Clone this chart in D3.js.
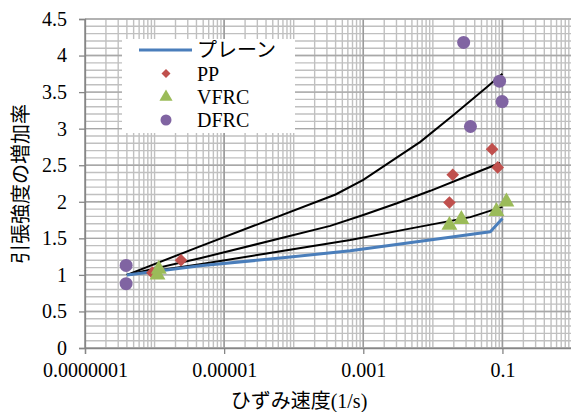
<!DOCTYPE html>
<html>
<head>
<meta charset="utf-8">
<script src="https://cdn.jsdelivr.net/npm/d3@7"></script>
<style>
body{margin:0;background:#fff;}
text{font-family:"Liberation Serif","Noto Sans CJK JP",serif;fill:#000;}
</style>
</head>
<body>
<div id="chart"></div>
<script>
// strain rate (1/s) vs increase ratio of tensile strength
var plain   = [[4e-7,1.0],[4.5e-6,1.126],[6.4e-5,1.23],[6.5e-4,1.33],[1.15e-2,1.49],[0.067,1.59],[0.1,1.77]];
var fitHigh = [[4e-7,1.0],[4.5e-6,1.39],[4e-4,2.1],[1e-3,2.30],[6.6e-3,2.82],[0.02,3.19],[0.06,3.57],[0.1,3.75]];
var fitMid  = [[4e-7,1.0],[4.5e-6,1.227],[3.35e-4,1.67],[1e-3,1.82],[3.05e-3,1.98],[9.2e-3,2.15],[0.0347,2.37],[0.093,2.53]];
var fitLow  = [[4e-7,1.0],[4.5e-6,1.145],[6.5e-4,1.477],[6.6e-3,1.66],[0.0347,1.79],[0.1,1.93]];
var pp   = [[9.3e-7,1.03],[2.4e-6,1.2],[0.0173,1.99],[0.0193,2.37],[0.071,2.72],[0.0855,2.47]];
var vfrc = [[1.1e-6,1.0],[1.15e-6,1.08],[0.0173,1.68],[0.0257,1.76],[0.082,1.87],[0.114,2.0]];
var dfrc = [[3.9e-7,1.13],[3.9e-7,0.88],[0.0277,4.18],[0.091,3.65],[0.099,3.37],[0.0347,3.03]];

var xTicks = [1e-7,1e-5,1e-3,1e-1];
var xTickLabels = ["0.0000001","0.00001","0.001","0.1"];
var yTicks = [0,0.5,1,1.5,2,2.5,3,3.5,4,4.5];
var legendNames = ["プレーン","PP","VFRC","DFRC"];

(function(){
var width = 571, height = 412;
var pLeft = 85, pRight = 572, pTop = 19, pBottom = 348;

var svg = d3.select("#chart").append("svg")
	.attr("width", width).attr("height", height);

var x = d3.scaleLog().domain([1e-7, 1]).range([pLeft, pRight]);
var y = d3.scaleLinear().domain([0, 4.5]).range([pBottom, pTop]);

//minor grid
var minorX = [];
for (var d = -7; d < 0; d++) {
	for (var k = 1; k <= 9; k++) minorX.push(k * Math.pow(10, d));
}
var minorY = d3.range(0, 46).map(function(i){ return i / 10; });

var grid = svg.append("g");
grid.selectAll("line.mx").data(minorX).enter().append("line")
	.attr("x1", function(d){ return x(d); }).attr("x2", function(d){ return x(d); })
	.attr("y1", pTop).attr("y2", pBottom)
	.attr("stroke", "#c0c0c0").attr("stroke-width", 1.4);
grid.selectAll("line.my").data(minorY).enter().append("line")
	.attr("x1", pLeft).attr("x2", pRight)
	.attr("y1", function(d){ return y(d); }).attr("y2", function(d){ return y(d); })
	.attr("stroke", "#c0c0c0").attr("stroke-width", 1.4);
//major grid
grid.selectAll("line.Mx").data(xTicks).enter().append("line")
	.attr("x1", function(d){ return x(d); }).attr("x2", function(d){ return x(d); })
	.attr("y1", pTop).attr("y2", pBottom)
	.attr("stroke", "#9a9a9a").attr("stroke-width", 1.5);
grid.selectAll("line.My").data(yTicks).enter().append("line")
	.attr("x1", pLeft).attr("x2", pRight)
	.attr("y1", function(d){ return y(d); }).attr("y2", function(d){ return y(d); })
	.attr("stroke", "#a8a8a8").attr("stroke-width", 1.4);

//axes
var xAxis = svg.append("g").attr("transform", "translate(0," + pBottom + ")")
	.call(d3.axisBottom(x).tickValues(xTicks).tickSize(6).tickPadding(9)
		.tickFormat(function(d, i){ return xTickLabels[i]; }));
var yAxis = svg.append("g").attr("transform", "translate(" + pLeft + ",0)")
	.call(d3.axisLeft(y).tickValues(yTicks).tickSize(6).tickPadding(12)
		.tickFormat(d3.format("")));
[xAxis, yAxis].forEach(function(a){
	a.select(".domain").attr("stroke", "#868686").attr("stroke-width", 1.3);
	a.selectAll(".tick line").attr("stroke", "#868686").attr("stroke-width", 1.3);
	a.selectAll(".tick text").style("font-size", "20px").style("font-family", "Liberation Serif");
});

//lines
var line = d3.line().x(function(d){ return x(d[0]); }).y(function(d){ return y(d[1]); });
[fitHigh, fitMid, fitLow].forEach(function(s){
	svg.append("path").datum(s).attr("d", line)
		.attr("fill", "none").attr("stroke", "#000").attr("stroke-width", 2);
});
svg.append("path").datum(plain).attr("d", line)
	.attr("fill", "none").attr("stroke", "#4a7ebb").attr("stroke-width", 3)
	.attr("stroke-linejoin", "round");

//markers
var diamond = d3.symbol().type(d3.symbolSquare).size(80);
var tri = d3.symbol().type(d3.symbolTriangle).size(110);
svg.selectAll("path.pp").data(pp).enter().append("path")
	.attr("d", diamond)
	.attr("transform", function(d){ return "translate(" + x(d[0]) + "," + y(d[1]) + ") rotate(45)"; })
	.attr("fill", "#c0504d");
svg.selectAll("path.vf").data(vfrc).enter().append("path")
	.attr("d", tri)
	.attr("transform", function(d){ return "translate(" + x(d[0]) + "," + y(d[1]) + ")"; })
	.attr("fill", "#9bbb59");
svg.selectAll("circle.df").data(dfrc).enter().append("circle")
	.attr("cx", function(d){ return x(d[0]); }).attr("cy", function(d){ return y(d[1]); })
	.attr("r", 6.5).attr("fill", "#8064a2");

//legend
var lg = svg.append("g");
lg.append("rect").attr("x", 122).attr("y", 39).attr("width", 173).attr("height", 94).attr("fill", "#fff");
var ly = [50, 73.5, 97, 120];
lg.append("line").attr("x1", 139).attr("x2", 192).attr("y1", ly[0]).attr("y2", ly[0])
	.attr("stroke", "#4a7ebb").attr("stroke-width", 3);
lg.append("path").attr("d", d3.symbol().type(d3.symbolSquare).size(40))
	.attr("transform", "translate(166," + ly[1] + ") rotate(45)").attr("fill", "#c0504d");
lg.append("path").attr("d", d3.symbol().type(d3.symbolTriangle).size(75))
	.attr("transform", "translate(166," + ly[2] + ")").attr("fill", "#9bbb59");
lg.append("circle").attr("cx", 166).attr("cy", ly[3]).attr("r", 5.5).attr("fill", "#8064a2");
lg.selectAll("text").data(legendNames).enter().append("text")
	.attr("x", 197).attr("y", function(d, i){ return ly[i]; })
	.attr("dy", "0.35em").style("font-size", "20px")
	.text(function(d){ return d; });

//titles
svg.append("text").attr("x", 299).attr("y", 401).attr("dy", "0.35em")
	.attr("text-anchor", "middle").style("font-size", "20px")
	.text("ひずみ速度(1/s)");
svg.append("text").attr("transform", "translate(21,184) rotate(-90)")
	.attr("dy", "0.35em").attr("text-anchor", "middle").style("font-size", "20px")
	.text("引張強度の増加率");
})();
</script>
</body>
</html>
